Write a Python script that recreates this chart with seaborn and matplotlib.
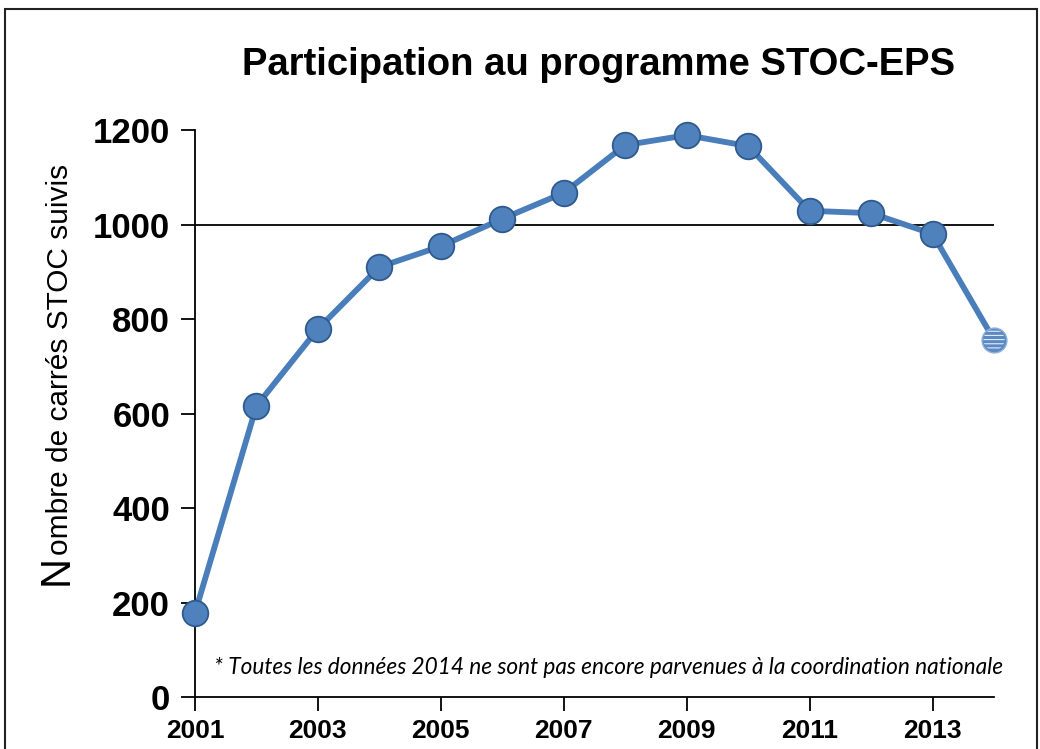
import numpy as np
import pandas as pd
import matplotlib
matplotlib.use("Agg")
import matplotlib.pyplot as plt
from matplotlib.patches import Rectangle
from matplotlib.transforms import offset_copy
import seaborn as sns

# data
years = [2001, 2002, 2003, 2004, 2005, 2006, 2007, 2008, 2009, 2010, 2011, 2012, 2013, 2014]
carres = [178, 616, 779, 910, 954, 1012, 1067, 1168, 1189, 1166, 1029, 1024, 980, 756]
partial_year = 2014
x_ticks = [2001, 2003, 2005, 2007, 2009, 2011, 2013]
y_ticks = [0, 200, 400, 600, 800, 1000, 1200]

title = "Participation au programme STOC-EPS"
note = "* Toutes les données 2014 ne sont pas encore parvenues à la coordination nationale"

sns.set_style("white")
plt.rcParams["font.family"] = ["Liberation Sans", "DejaVu Sans"]
plt.rcParams["text.color"] = "black"
plt.rcParams["xtick.color"] = "black"
plt.rcParams["ytick.color"] = "black"
plt.rcParams["hatch.linewidth"] = 0.8
plt.rcParams["hatch.color"] = "#E4EDF8"

df = pd.DataFrame({"annee": years, "carres": carres})
full = df[df["annee"] != partial_year]
part = df[df["annee"] == partial_year]

line_col = "#4A7EBB"
face_col = "#4F81BD"
edge_col = "#2E5A8E"

fig = plt.figure(figsize=(10.4, 7.49), dpi=100)
ax = fig.add_axes([195 / 1040, 52 / 749, (994 - 195) / 1040, (697 - 130) / 749])

ax.axhline(1000, color="black", lw=1.3, zorder=1)
sns.lineplot(data=df, x="annee", y="carres", ax=ax, color=line_col, lw=4.2,
             zorder=2, clip_on=False)
sns.scatterplot(data=full, x="annee", y="carres", ax=ax, s=340, color=face_col,
                edgecolor=edge_col, linewidth=1.3, zorder=3, clip_on=False)
# partial 2014 value: hatched marker
ax.scatter(part["annee"], part["carres"], s=320, c="#5A89C4",
           edgecolors="#8FB1DD", linewidths=1.0, zorder=3, clip_on=False)
ax.scatter(part["annee"], part["carres"], s=230, facecolors="none",
           edgecolors="#E4EDF8", hatch="----", linewidths=0.01, zorder=4,
           clip_on=False)

ax.set_xlim(2001, 2014)
ax.set_ylim(0, 1200)
ax.set_xticks(x_ticks)
ax.set_yticks(y_ticks)
ax.set_xticklabels([str(t) for t in x_ticks], fontsize=19, fontweight="bold")
ax.set_yticklabels([str(t) for t in y_ticks], fontsize=25, fontweight="bold")
ax.set_xlabel("")
ax.set_ylabel("")
ax.tick_params(axis="both", direction="out", length=10, width=1.3, color="black",
               bottom=True, left=True)
ax.tick_params(axis="y", pad=8)
ax.tick_params(axis="x", pad=6)
for side in ["top", "right"]:
    ax.spines[side].set_visible(False)
for side in ["left", "bottom"]:
    ax.spines[side].set_color("black")
    ax.spines[side].set_linewidth(1.3)

# y label with a larger first letter
n_txt = fig.text(68 / 1040, 164 / 749, "N", rotation=90, rotation_mode="anchor",
                 ha="left", va="baseline", fontsize=30)
fig.canvas.draw()
n_len = n_txt.get_window_extent().height
rest_tr = offset_copy(fig.transFigure, fig=fig, x=0, y=n_len, units="dots")
fig.text(68 / 1040, 164 / 749, "ombre de carrés STOC suivis", rotation=90,
         rotation_mode="anchor", ha="left", va="baseline", fontsize=21.5,
         transform=rest_tr)

fig.text(599 / 1040, 1 - 65 / 749, title, ha="center", va="center",
         fontsize=27.5, fontweight="bold")
fig.text(1003 / 1040, 1 - 667 / 749, note, ha="right", va="center",
         fontsize=16.3, style="italic", family=["Lato", "DejaVu Sans"])

fig.patches.append(Rectangle((5 / 1040, -0.02), 1032 / 1040, 1.02 - 9 / 749,
                             transform=fig.transFigure, fill=False,
                             edgecolor="#222222", lw=1.5))

fig.savefig("out.png", dpi=100)
